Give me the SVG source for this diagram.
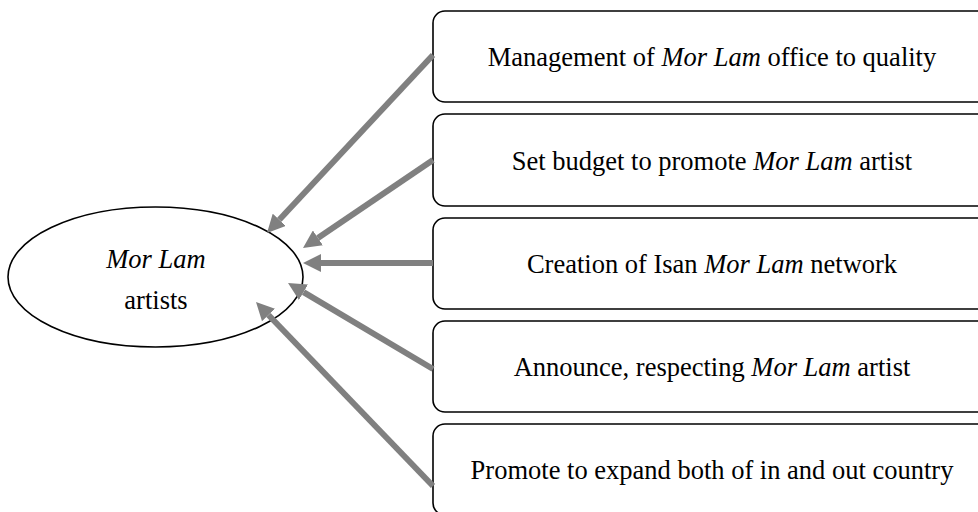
<svg xmlns="http://www.w3.org/2000/svg" width="978" height="512" viewBox="0 0 978 512">
<style>
  .box { fill: #ffffff; stroke: #000000; stroke-width: 1.6; }
  .ell { fill: #ffffff; stroke: #000000; stroke-width: 1.6; }
  .t { font-family: "Liberation Serif", "Times New Roman", serif; font-size: 26.5px; fill: #000000; text-anchor: middle; }
  .i { font-style: italic; }
  .arr { stroke: #808080; stroke-width: 6; fill: none; marker-end: url(#ah); }
</style>
<defs>
  <marker id="ah" markerUnits="userSpaceOnUse" viewBox="0 0 18 18" markerWidth="18" markerHeight="18" refX="0" refY="9" orient="auto">
    <path d="M0,0 L18,9 L0,18 z" fill="#808080"/>
  </marker>
</defs>
<rect width="978" height="512" fill="#ffffff"/>
<g id="n-artists">
  <ellipse class="ell" cx="155.5" cy="277" rx="147.5" ry="70"/>
  <text class="t" x="156" y="268"><tspan class="i">Mor Lam</tspan></text>
  <text class="t" x="156" y="309">artists</text>
</g>
<g id="n1">
  <rect class="box" x="433" y="11" width="570" height="91" rx="12"/>
  <text class="t" x="712" y="66">Management of <tspan class="i">Mor Lam</tspan> office to quality</text>
</g>
<g id="n2">
  <rect class="box" x="433" y="114" width="570" height="92" rx="12"/>
  <text class="t" x="712" y="169.5">Set budget to promote <tspan class="i">Mor Lam</tspan> artist</text>
</g>
<g id="n3">
  <rect class="box" x="433" y="218" width="570" height="91" rx="12"/>
  <text class="t" x="712" y="273">Creation of Isan <tspan class="i">Mor Lam</tspan> network</text>
</g>
<g id="n4">
  <rect class="box" x="433" y="321" width="570" height="91" rx="12"/>
  <text class="t" x="712" y="376">Announce, respecting <tspan class="i">Mor Lam</tspan> artist</text>
</g>
<g id="n5">
  <rect class="box" x="433" y="424" width="570" height="91" rx="12"/>
  <text class="t" x="712" y="479">Promote to expand both of in and out country</text>
</g>
<g id="connectors">
  <line class="arr" x1="433" y1="55" x2="279.3" y2="219.8"/>
  <line class="arr" x1="433" y1="160" x2="317.9" y2="237.9"/>
  <line class="arr" x1="433" y1="263" x2="321" y2="263"/>
  <line class="arr" x1="433" y1="369" x2="303.5" y2="292.2"/>
  <line class="arr" x1="433" y1="486" x2="268.5" y2="315"/>
</g>
</svg>
